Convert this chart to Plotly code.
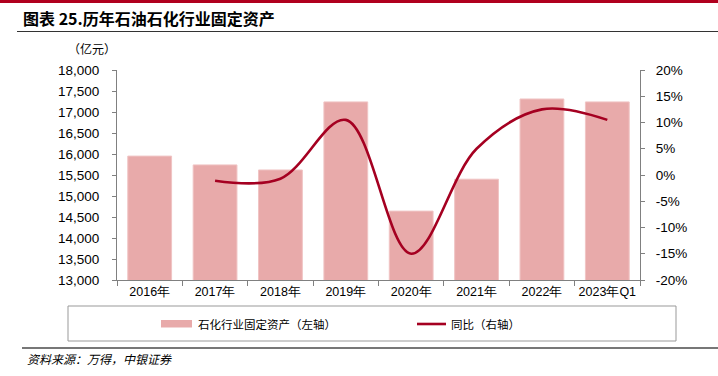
import plotly.graph_objects as go

categories = ["2016年", "2017年", "2018年", "2019年", "2020年", "2021年", "2022年", "2023年Q1"]
assets = [15950, 15740, 15620, 17240, 14640, 15400, 17310, 17240]
yoy = [None, -1.1, -0.7, 10.5, -15.0, 5.0, 12.5, 10.5]
left_ticks = list(range(13000, 18001, 500))
right_ticks = list(range(-20, 21, 5))
right_tick_text = [f"{v}%" for v in right_ticks]

bar_name = "石化行业固定资产（左轴）"
line_name = "同比（右轴）"
title_text = "图表 25.历年石油石化行业固定资产"
unit_text = "（亿元）"
source_text = "资料来源：万得，中银证券"

W, H = 718, 376
L, R, T, B = 117, 640, 70, 280
BAR_C = "#E8AAAA"
LINE_C = "#A50021"
NUM_FONT = "Liberation Sans, Arial, sans-serif"
CJK_FONT = "Noto Sans CJK SC, sans-serif"


def px(x):
    return (x - L) / (R - L)


def py(y):
    return (B - y) / (B - T)


fig = go.Figure()
fig.add_trace(go.Bar(
    x=categories, y=assets, name=bar_name, marker_color=BAR_C,
    marker_line=dict(color="#F0C4C4", width=1), width=0.67, showlegend=False,
))
fig.add_trace(go.Scatter(
    x=categories, y=yoy, name=line_name, yaxis="y2", mode="lines",
    line=dict(color=LINE_C, width=2.6, shape="spline", smoothing=1.0),
    connectgaps=False, showlegend=False,
))

axis_col = "#808080"
fig.update_layout(
    width=W, height=H,
    margin=dict(l=L, r=W - R, t=T, b=H - B, pad=0, autoexpand=False),
    paper_bgcolor="white", plot_bgcolor="white",
    bargap=0.33,
    xaxis=dict(
        showgrid=False, showline=True, linecolor=axis_col, linewidth=1,
        ticks="outside", ticklen=5, tickcolor=axis_col, tickson="boundaries",
        tickangle=0, automargin=False,
        tickfont=dict(family=NUM_FONT, size=12.5, color="#000"),
    ),
    yaxis=dict(
        range=[13000, 18000], tickvals=left_ticks, tickformat=",d",
        showgrid=False, zeroline=False, showline=True, linecolor=axis_col,
        ticks="outside", ticklen=4, tickcolor=axis_col, ticklabelstandoff=10,
        automargin=False,
        tickfont=dict(family=NUM_FONT, size=13.5, color="#000"),
    ),
    yaxis2=dict(
        range=[-20, 20], tickvals=right_ticks, ticktext=right_tick_text, overlaying="y",
        side="right", showgrid=False, zeroline=False, showline=True,
        linecolor=axis_col, ticks="outside", ticklen=4, tickcolor=axis_col,
        ticklabelstandoff=8, automargin=False,
        tickfont=dict(family=NUM_FONT, size=13.5, color="#000"),
    ),
    showlegend=False,
)

shapes = [
    dict(type="rect", xref="paper", yref="paper", x0=px(0), x1=px(W), y0=py(0), y1=py(3),
         fillcolor="#B0001E", line=dict(width=0)),
    dict(type="line", xref="paper", yref="paper", x0=px(17), x1=px(W), y0=py(31.5), y1=py(31.5),
         line=dict(color="#333", width=1.2)),
    dict(type="line", xref="paper", yref="paper", x0=px(22), x1=px(W), y0=py(348), y1=py(348),
         line=dict(color="#777", width=2)),
    # legend box
    dict(type="rect", xref="paper", yref="paper", x0=px(68), x1=px(676), y0=py(306), y1=py(341),
         line=dict(color="#999", width=1), fillcolor="rgba(0,0,0,0)"),
    dict(type="rect", xref="paper", yref="paper", x0=px(161), x1=px(192), y0=py(320), y1=py(327.5),
         fillcolor=BAR_C, line=dict(width=0)),
    dict(type="line", xref="paper", yref="paper", x0=px(417), x1=px(446), y0=py(324), y1=py(324),
         line=dict(color=LINE_C, width=2.6)),
]
fig.update_layout(shapes=shapes)

ann = [
    dict(text=f"<b>{title_text}</b>", x=px(21), y=py(18), xanchor="left", yanchor="middle",
         font=dict(family=CJK_FONT, size=16, color="#000")),
    dict(text=unit_text, x=px(118), y=py(49), xanchor="right", yanchor="middle",
         font=dict(family=CJK_FONT, size=12, color="#000")),
    dict(text=bar_name, x=px(196), y=py(324), xanchor="left", yanchor="middle",
         font=dict(family=CJK_FONT, size=11.5, color="#000")),
    dict(text=line_name, x=px(449), y=py(324), xanchor="left", yanchor="middle",
         font=dict(family=CJK_FONT, size=11.5, color="#000")),
    dict(text=f"<i>{source_text}</i>", x=px(25), y=py(358), xanchor="left", yanchor="middle",
         font=dict(family=CJK_FONT, size=12, color="#000")),
]
for a in ann:
    a.update(xref="paper", yref="paper", showarrow=False)
fig.update_layout(annotations=ann)

fig.write_html(
    "out.html",
    config={"displayModeBar": False},
    post_script="document.body.style.margin='0';document.body.style.overflow='hidden';",
)
